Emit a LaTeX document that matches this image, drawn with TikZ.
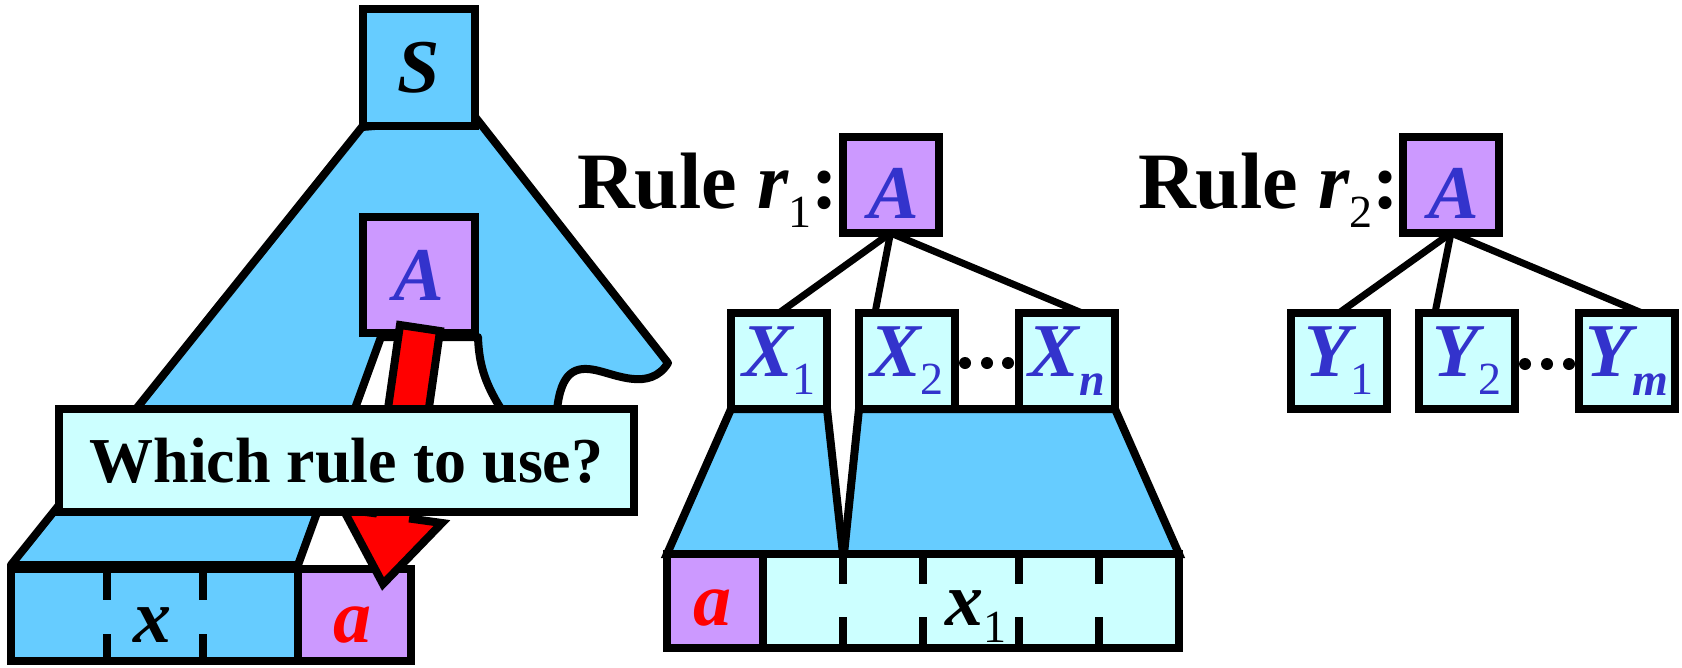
\documentclass[tikz,border=0pt]{standalone}
\usepackage{fontspec}
\setmainfont{Liberation Serif}
\usetikzlibrary{calc}
\definecolor{tblue}{HTML}{66CCFF}
\definecolor{tpurple}{HTML}{CC99FF}
\definecolor{tcyan}{HTML}{CCFFFF}
\definecolor{tlab}{HTML}{3333CC}
\newcommand\varfnt{\fontsize{76}{80}\selectfont\bfseries\itshape}
\newcommand\subfnt{\normalfont\fontsize{46}{46}\selectfont}
\newcommand\subit{\fontsize{46}{46}\selectfont\bfseries\itshape}
\newcommand\rulefnt{\fontsize{80}{84}\selectfont\bfseries}
\newcommand\whichfnt{\fontsize{64}{70}\selectfont\bfseries}
\begin{document}
\begin{tikzpicture}[x=1pt,y=-1pt,
  every node/.style={inner sep=0pt, outer sep=0pt},
  box/.style={draw=black, line width=8pt},
  sq/.style={box, minimum width=96pt, minimum height=96pt},
  big/.style={box, minimum width=112pt, minimum height=117pt},
  blob/.style={draw=black, line width=8pt, fill=tblue, line join=round},
  trap/.style={draw=black, line width=8pt, fill=tblue, line join=miter},
  conn/.style={draw=black, line width=7pt},
  tickln/.style={draw=black, line width=8pt},
  var/.style={font=\varfnt, text=tlab},
  dotfill/.style={fill=black},
]
\useasboundingbox (0,0) rectangle (1682,667);

% ---------- left: derivation tree ----------
\draw[blob] (362,127) -- (11,565) -- (298,565) -- (381,337) -- (478,337)
  .. controls (479,365) and (485,385) .. (505,415) -- (540,470) -- (553,440) -- (557,410)
  .. controls (561,372) and (575,366) .. (595,370)
  .. controls (615,374) and (650,392) .. (668,363) -- (476,118) -- cycle;

\node[box, fill=tblue, minimum width=287pt, minimum height=92pt] (xrow) at (154.5,615) {};
\node[box, fill=tpurple, minimum width=113pt, minimum height=92pt] (arow) at (354.5,615) {};
\draw[tickln] (107,569) -- (107,600) (107,634) -- (107,661)
              (203,569) -- (203,600) (203,634) -- (203,661);
\node[anchor=base, font=\varfnt] (xl) at (152,642) {x};
\node[anchor=base, font=\varfnt, text=red] (al) at (352,642) {a};

\node[big, fill=tblue, font=\varfnt] (S) at (419,67.5) {S};
\node[big, fill=tpurple, minimum height=116pt, var] (A0) at (419,275) {A};

\draw[draw=black, line width=8pt, fill=red, line join=miter]
  (400,325) -- (440,331) -- (413,519) -- (442,523) -- (383,584) -- (343,509) -- (373,513) -- cycle;

\node[box, fill=tcyan, minimum width=575pt, minimum height=103pt, font=\whichfnt] (Q) at (346.5,460.5) {Which rule to use?};

% ---------- middle: rule r1 ----------
\draw[trap] (731,409) -- (667,554) -- (843,554) -- (827,409) -- cycle;
\draw[trap] (859,409) -- (844,554) -- (1179,554) -- (1115,409) -- cycle;

\node[box, fill=tpurple, minimum width=96pt, minimum height=94pt] (arow1) at (715,601) {};
\node[box, fill=tcyan, minimum width=416pt, minimum height=94pt] (xrow1) at (971,601) {};
\draw[tickln] (843,554) -- (843,584) (843,617) -- (843,648)
              (923,554) -- (923,584) (923,617) -- (923,648)
              (1019,554) -- (1019,584) (1019,617) -- (1019,648)
              (1099,554) -- (1099,584) (1099,617) -- (1099,648);
\node[anchor=base, font=\varfnt, text=red] (al1) at (712.5,625) {a};
\node[anchor=base west, font=\varfnt] (xl1) at (945,625) {x\raisebox{-17pt}{\subfnt 1}};

\node[sq, fill=tcyan, var] (X1) at (779,361) {X\raisebox{-18pt}{\subfnt 1}};
\node[sq, fill=tcyan, var] (X2) at (907,361) {X\raisebox{-18pt}{\subfnt 2}};
\node[sq, fill=tcyan, var] (Xn) at (1067,361) {X\raisebox{-19pt}{\subit n}};
\node[sq, fill=tpurple] (A1) at (890.5,185) {};
\node[anchor=base, var] (A1l) at (894,218) {A};
\draw[conn] (A1.south) -- (X1.north);
\draw[conn] (A1.south) -- ($(X2.north)+(-32,0)$);
\draw[conn] (A1.south) -- ($(Xn.north)+(15,0)$);
\fill[dotfill] (965,363) circle (6pt) (987,363) circle (6pt) (1008,363) circle (6pt);
\node[anchor=base west, font=\rulefnt] (R1) at (577,208) {Rule \textit{r}\raisebox{-19pt}{\subfnt 1}:};

% ---------- right: rule r2 ----------
\node[sq, fill=tcyan, var] (Y1) at (1339,361) {Y\raisebox{-18pt}{\subfnt 1}};
\node[sq, fill=tcyan, var] (Y2) at (1467,361) {Y\raisebox{-18pt}{\subfnt 2}};
\node[sq, fill=tcyan, var] (Ym) at (1627,361) {Y\raisebox{-19pt}{\subit m}};
\node[sq, fill=tpurple] (A2) at (1451,185) {};
\node[anchor=base, var] (A2l) at (1454,218) {A};
\draw[conn] (A2.south) -- (Y1.north);
\draw[conn] (A2.south) -- ($(Y2.north)+(-32,0)$);
\draw[conn] (A2.south) -- ($(Ym.north)+(15,0)$);
\fill[dotfill] (1525,364) circle (6pt) (1547,364) circle (6pt) (1569,364) circle (6pt);
\node[anchor=base west, font=\rulefnt] (R2) at (1138,208) {Rule \textit{r}\raisebox{-19pt}{\subfnt 2}:};
\end{tikzpicture}
\end{document}
